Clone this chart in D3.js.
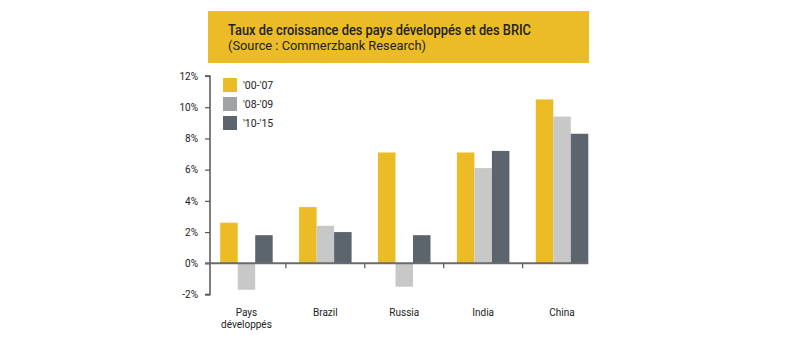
<!DOCTYPE html>
<html><head><meta charset="utf-8">
<script src="https://cdn.jsdelivr.net/npm/d3@7"></script>
<style>body{margin:0;background:#fff;} svg{display:block;}</style>
</head><body>
<svg id="c" width="810" height="338"></svg>
<script>
const categories = ["Pays\ndéveloppés", "Brazil", "Russia", "India", "China"];
const seriesNames = ["'00-'07", "'08-'09", "'10-'15"];
const s0007 = [2.6, 3.6, 7.1, 7.1, 10.5];
const s0809 = [-1.7, 2.4, -1.5, 6.1, 9.4];
const s1015 = [1.8, 2.0, 1.8, 7.2, 8.3];
const yTicks = [-2, 0, 2, 4, 6, 8, 10, 12];
const title = "Taux de croissance des pays développés et des BRIC";
const subtitle = "(Source : Commerzbank Research)";

const barColors = ["#EBBC25", "#C8C8C9", "#5C656D"];
const legendColors = ["#EBBC25", "#A0A2A3", "#5C656D"];
const series = [s0007, s0809, s1015];

const svg = d3.select("#c");
const font = "Roboto, 'Liberation Sans', sans-serif";

// Title box
svg.append("rect").attr("x", 208).attr("y", 11).attr("width", 381).attr("height", 52).attr("fill", "#EBBC25");
svg.append("text").attr("x", 228).attr("y", 35).text(title)
  .attr("font-family", font).attr("font-size", 14).attr("font-weight", 500).attr("fill", "#222")
  .attr("textLength", 303).attr("lengthAdjust", "spacingAndGlyphs");
svg.append("text").attr("x", 228).attr("y", 50).text(subtitle)
  .attr("font-family", font).attr("font-size", 13).attr("fill", "#222")
  .attr("textLength", 198).attr("lengthAdjust", "spacingAndGlyphs");

const y = d3.scaleLinear().domain([-2, 12]).range([294.5, 76]);
const x0 = d3.scaleBand().domain(d3.range(categories.length)).range([207, 601.5]).paddingInner(0).paddingOuter(0);
const x1 = d3.scaleBand().domain(d3.range(3)).range([13.2, x0.bandwidth() - 13.2]);

// Bars
const g = svg.append("g");
categories.forEach((c, i) => {
  series.forEach((s, j) => {
    const v = s[i];
    g.append("rect")
      .attr("x", x0(i) + x1(j))
      .attr("width", x1.bandwidth())
      .attr("y", y(Math.max(0, v)))
      .attr("height", Math.abs(y(v) - y(0)))
      .attr("fill", barColors[j]);
  });
});

// Y axis
const yAxis = d3.axisLeft(y).tickValues(yTicks).tickSize(5).tickFormat(d => d + "%");
const ya = svg.append("g").attr("transform", "translate(210,0)").call(yAxis);
ya.select(".domain").attr("stroke", "#555").attr("stroke-width", 1.5).attr("d", `M-5,${y(12)}H0V${y(-2)}H-5`);
ya.selectAll(".tick line").attr("stroke", "#555").attr("stroke-width", 1.2);
ya.selectAll(".tick text").attr("font-family", font).attr("font-size", 10).attr("fill", "#222").attr("x", -12);

// Zero line
svg.append("line").attr("x1", 205).attr("x2", x0(4) + x1(2) + x1.bandwidth())
  .attr("y1", y(0)).attr("y2", y(0)).attr("stroke", "#6b6b6b").attr("stroke-width", 2);

// Category separators
for (let i = 1; i < categories.length; i++) {
  svg.append("line").attr("x1", x0(i)).attr("x2", x0(i)).attr("y1", y(0)).attr("y2", y(0) + 5)
    .attr("stroke", "#555").attr("stroke-width", 1.2);
}

// Category labels
categories.forEach((c, i) => {
  const t = svg.append("text").attr("text-anchor", "middle").attr("font-family", font)
    .attr("font-size", 10).attr("fill", "#222");
  c.split("\n").forEach((line, k) => {
    t.append("tspan").attr("x", x0(i) + x0.bandwidth() / 2).attr("y", 316 + k * 11.5).text(line);
  });
});

// Legend
seriesNames.forEach((n, j) => {
  svg.append("rect").attr("x", 223).attr("y", 78 + j * 19).attr("width", 14).attr("height", 14).attr("fill", legendColors[j]);
  svg.append("text").attr("x", 243).attr("y", 89 + j * 19).text(n)
    .attr("font-family", font).attr("font-size", 10.5).attr("fill", "#222");
});
</script>
</body></html>
